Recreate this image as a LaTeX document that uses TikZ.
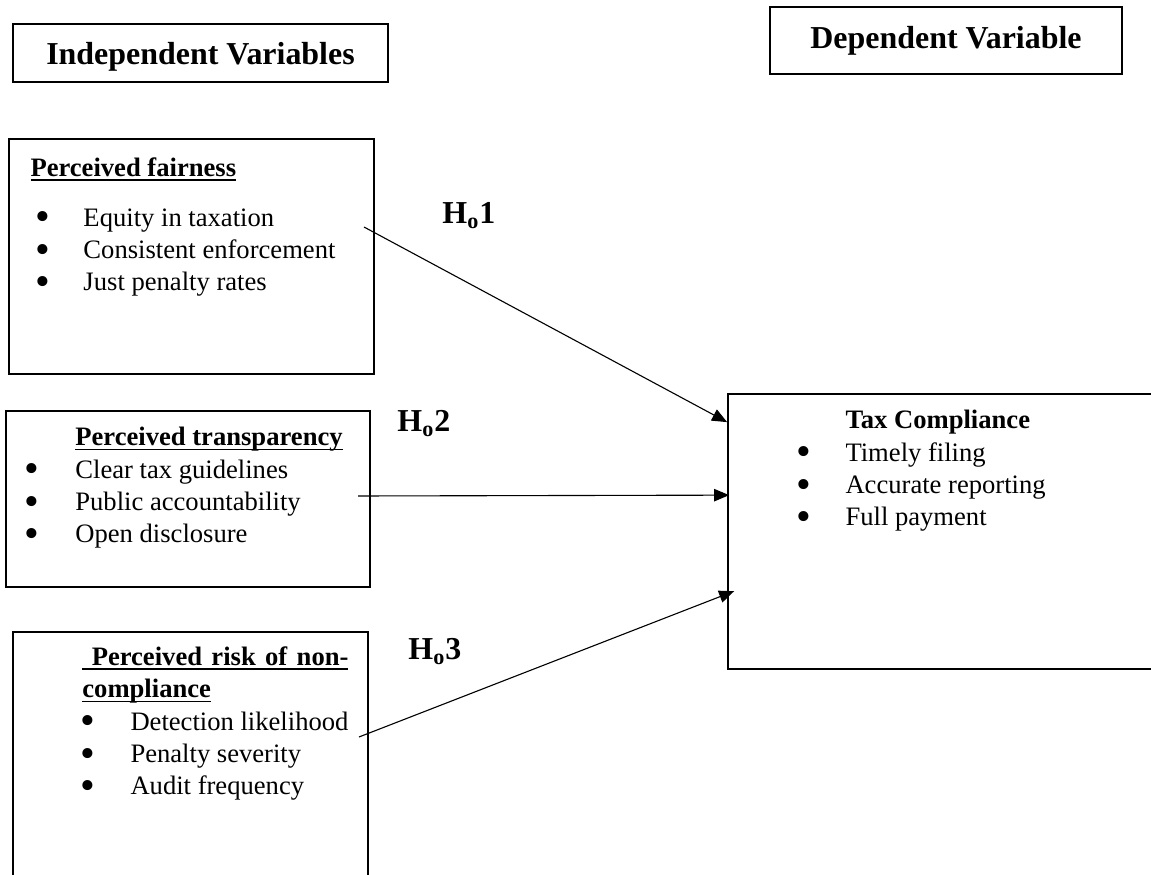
\documentclass[tikz,border=0pt]{standalone}
\usepackage{fontspec}
\setmainfont{Liberation Serif}
\usetikzlibrary{arrows.meta, calc}

% underline at a fixed depth, as the word processor draws it
\newcommand{\undl}[1]{{\setbox0\hbox{#1}\rlap{\rule[-2pt]{\wd0}{0.8pt}}\box0}}
% bullet line: #1 = bullet centre, #2 = text start, #3 = text
\newcommand{\bitem}[3]{\hspace*{#1}\makebox[0pt]{\raisebox{-2pt}{\fontsize{19}{19}\selectfont\textbullet}}\hspace*{\dimexpr#2-#1\relax}#3}

\begin{document}
\begin{tikzpicture}[x=0.451pt, y=-0.451pt,
  hdr/.style={draw, line width=0.8pt, inner sep=0pt,
              font=\fontsize{14.4}{17}\selectfont\bfseries},
  vbox/.style={draw, line width=0.8pt, inner sep=0pt},
  txt/.style={anchor=base west, inner sep=0pt, align=left,
              font=\fontsize{12}{14.6}\selectfont},
  hyp/.style={anchor=base west, inner sep=0pt,
              font=\fontsize{14.4}{17}\selectfont\bfseries},
  arr/.style={-{Triangle[length=6.8pt, width=5.6pt]}, line width=0.5pt}
]
  \useasboundingbox (0,0) rectangle (1151,875);
  \clip (0,0) rectangle (1151,875);

  % headings
  \node[hdr, minimum width=169.1pt, minimum height=26.2pt, text depth=0pt] (indep) at (200.5,53) {Independent Variables};
  \node[hdr, minimum width=158.8pt, minimum height=30.2pt] (dep) at (946,40.5) {Dependent Variable};

  % variable boxes
  \node[vbox, minimum width=164.6pt, minimum height=106pt]   (fairbox)  at (191.5,256.5) {};
  \node[vbox, minimum width=164.2pt, minimum height=79.4pt]  (transbox) at (188,499)     {};
  \node[vbox, minimum width=160.1pt, minimum height=120.9pt] (riskbox)  at (190.5,766)   {};
  \node[vbox, minimum width=199.3pt, minimum height=124pt]   (taxbox)   at (949,531.5)   {};

  % box texts (placed at the baseline of their last line)
  \node[txt] (fairtxt) at (9,291) {\hspace*{9.5pt}\undl{\textbf{Perceived fairness}}\\[8pt]
    \bitem{14.9pt}{33.4pt}{Equity in taxation}\\
    \bitem{14.9pt}{33.4pt}{Consistent enforcement}\\
    \bitem{14.9pt}{33.4pt}{Just penalty rates}};
  \node[txt] (transtxt) at (6,543) {\hspace*{31.1pt}\undl{\textbf{Perceived transparency}}\\
    \bitem{11.3pt}{31.1pt}{Clear tax guidelines}\\
    \bitem{11.3pt}{31.1pt}{Public accountability}\\
    \bitem{11.3pt}{31.1pt}{Open disclosure}};
  \node[txt] (risktxt) at (13,795) {\hspace*{31.1pt}\undl{\textbf{\makebox[120pt][s]{\ Perceived risk of non-}}}\\
    \hspace*{31.1pt}\undl{\textbf{compliance}}\\
    \bitem{33.4pt}{52.8pt}{Detection likelihood}\\
    \bitem{33.4pt}{52.8pt}{Penalty severity}\\
    \bitem{33.4pt}{52.8pt}{Audit frequency}};
  \node[txt] (taxtxt) at (728,526) {\hspace*{52.8pt}\textbf{Tax Compliance}\\
    \bitem{33.8pt}{52.8pt}{Timely filing}\\
    \bitem{33.8pt}{52.8pt}{Accurate reporting}\\
    \bitem{33.8pt}{52.8pt}{Full payment}};

  % hypotheses
  \node[hyp] (h1) at (442,224) {H\textsubscript{o}1};
  \node[hyp] (h2) at (397,432) {H\textsubscript{o}2};
  \node[hyp] (h3) at (408,660) {H\textsubscript{o}3};

  \coordinate (s1) at (364,227);
  \coordinate (s2) at (358,496);
  \coordinate (s3) at (359,737);
  \coordinate (e1) at ($(taxbox.north west)+(0,29)$);
  \coordinate (e2) at ($(taxbox.north west)+(2,102)$);
  \coordinate (e3) at ($(taxbox.north west)+(7,198)$);

  \draw[arr] (s1) -- (e1);
  \draw[arr] (s2) -- (e2);
  \draw[arr] (s3) -- (e3);
\end{tikzpicture}
\end{document}
